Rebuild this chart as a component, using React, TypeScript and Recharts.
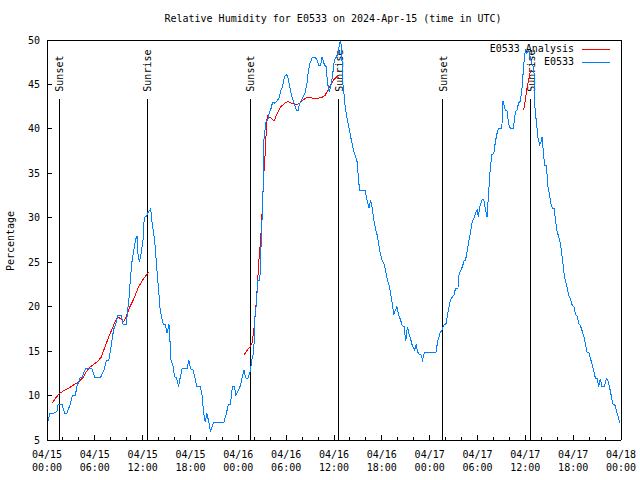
import React from 'react';
import { LineChart, Line, XAxis, YAxis, ReferenceLine } from 'recharts';

const FONT = "'DejaVu Sans Mono', 'Liberation Mono', monospace";
const BLUE = '#0080ff';
const RED = '#ff0000';

// hours since 2024-04-15 00:00 UTC
const xMajorTicks = [0, 6, 12, 18, 24, 30, 36, 42, 48, 54, 60, 66, 72];
const xTickLabels = [
  '04/15|00:00', '04/15|06:00', '04/15|12:00', '04/15|18:00',
  '04/16|00:00', '04/16|06:00', '04/16|12:00', '04/16|18:00',
  '04/17|00:00', '04/17|06:00', '04/17|12:00', '04/17|18:00',
  '04/18|00:00',
];
const xAllTicks = [
  0, 2, 4, 6, 8, 10, 12, 14, 16, 18, 20, 22, 24, 26, 28, 30, 32, 34, 36,
  38, 40, 42, 44, 46, 48, 50, 52, 54, 56, 58, 60, 62, 64, 66, 68, 70, 72,
];
const yTicks = [5, 10, 15, 20, 25, 30, 35, 40, 45, 50];

const sunNames = ['Sunset', 'Sunrise', 'Sunset', 'Sunrise', 'Sunset', 'Sunrise'];
const sunHours = [1.55, 12.6, 25.5, 36.6, 49.66, 60.68];
const sunLineTop = 43.4;

// E0533 observations
const obsHours = [
  0.1, 0.35, 0.85, 1.25, 1.4, 1.9, 2.2, 2.5, 2.9, 3.2, 3.55, 3.75, 4.15, 4.4, 4.8, 5.65,
  6.0, 6.7, 7.2, 7.45, 7.75, 7.95, 8.15, 8.35, 8.6, 8.9, 9.3, 9.55, 9.95, 10.1, 10.25,
  10.45, 10.65, 10.9, 11.1, 11.3, 11.4, 11.6, 11.8, 12.05, 12.2, 12.5, 12.6, 13.0, 13.2,
  13.5, 13.6, 13.8, 14.0, 14.2, 14.4, 14.6, 14.85, 15.05, 15.3, 15.4, 15.55, 15.8, 16.0,
  16.25, 16.5, 16.7, 16.95, 17.55, 17.8, 18.0, 18.3, 18.55, 18.8, 19.25, 19.45, 19.65,
  19.85, 20.05, 20.3, 20.5, 20.9, 22.2, 22.5, 22.75, 23.0, 23.25, 23.5, 23.7, 24.0, 24.3,
  24.5, 24.7, 24.9, 25.2, 25.5, 25.7, 25.9, 26.05, 26.1, 26.3, 26.4, 26.7, 26.8, 27.0,
  27.1, 27.2, 27.4, 27.5, 27.7, 27.9, 28.1, 28.3, 28.5, 28.7, 28.95, 29.15, 29.35, 29.55,
  29.8, 30.0, 30.2, 30.45, 30.65, 31.0, 31.3, 31.5, 31.7, 31.95, 32.35, 32.6, 32.8, 33.0,
  33.25, 33.65, 33.9, 34.1, 34.3, 34.5, 34.8, 35.0, 35.2, 35.4, 35.6, 35.85, 36.05, 36.3,
  36.5, 36.7, 36.85, 37.0, 37.1, 37.2, 37.4, 37.6, 37.85, 38.05, 38.25, 38.5, 38.7, 38.9,
  39.0, 39.2, 39.9, 40.0, 40.2, 40.4, 40.6, 40.8, 41.0, 41.2, 41.4, 41.6, 41.8, 42.05,
  42.25, 42.45, 42.65, 42.9, 43.1, 43.3, 43.5, 43.7, 43.9, 44.1, 44.35, 44.55, 44.8, 45.0,
  45.2, 45.4, 45.6, 45.8, 46.1, 46.3, 46.5, 46.7, 46.9, 47.1, 47.35, 48.8, 49.0, 49.3,
  49.55, 49.75, 50.05, 50.2, 50.4, 50.6, 50.85, 51.05, 51.25, 51.55, 51.7, 51.9, 52.1,
  52.3, 52.5, 52.7, 52.9, 53.1, 53.35, 53.55, 53.75, 53.95, 54.1, 54.3, 54.6, 54.8, 55.0,
  55.2, 55.4, 55.6, 55.8, 56.05, 56.25, 56.45, 56.65, 57.05, 57.2, 57.5, 57.7, 57.9, 58.1,
  58.5, 58.75, 58.95, 59.15, 59.35, 59.55, 59.8, 60.0, 60.2, 60.4, 60.6, 60.8, 61.0, 61.1,
  61.2, 61.4, 61.6, 61.8, 62.0, 62.1, 62.3, 62.45, 62.65, 62.8, 63.0, 63.2, 63.4, 63.6,
  63.8, 64.0, 64.25, 64.45, 64.65, 64.85, 65.05, 65.25, 65.45, 65.7, 65.9, 66.1, 66.3,
  66.5, 66.7, 66.9, 67.15, 67.35, 67.55, 67.75, 67.95, 68.15, 68.35, 68.55, 68.8, 69.0,
  69.2, 69.4, 69.6, 69.9, 70.15, 70.35, 70.55, 70.75, 70.95, 71.25, 71.45, 71.65, 71.85,
];
const obsValues = [
  7, 8, 8, 8.2, 9, 9, 8, 8, 9, 10, 10, 11, 12, 12, 13, 13,
  12, 12, 13, 14, 14, 15, 16.2, 17.4, 18, 19, 19, 18, 18, 19.5, 20.5,
  23, 25, 26.4, 27.5, 28, 26, 25, 26, 27.5, 30, 30.2, 30.5, 31, 29.3,
  27.5, 26.4, 24, 21.9, 19.6, 18.7, 18, 18, 17, 18, 16.6, 14, 13.4, 12.1,
  12, 11, 12, 13, 13, 14, 13, 12.9, 12, 11, 11, 10, 8,
  7, 8, 7, 6, 7, 7, 8, 9, 9, 11, 11, 10, 10.6, 11.2,
  12.1, 12.9, 12, 11.9, 12.7, 14, 14.75, 17, 19.3, 20.4, 23, 23, 25.6, 30.5,
  33.1, 38.75, 40.25, 41, 41, 41.9, 42.3, 43, 42.9, 43, 43.25, 43.6, 44.4, 44.75,
  45.9, 46.1, 45.9, 44.75, 43.8, 42.9, 42.1, 42.1, 42.9, 43.25, 44, 45.1, 46.6, 47.4,
  48, 48, 47.75, 47.1, 47.1, 48.1, 47.2, 47, 45.1, 44.2, 44.75, 46.25, 47.75, 48.1,
  48.5, 49.6, 50, 47.75, 45.1, 44.4, 42.5, 41.4, 40.25, 39.3, 38.4, 37.4, 36.9, 36.3,
  35.2, 33.1, 33.1, 32.6, 31.8, 31.1, 32, 31.1, 29.75, 28.8, 28.1, 27.1, 26, 25.1,
  24.9, 24.1, 23.2, 22.4, 21.5, 20.4, 19.1, 19.6, 20, 19.1, 18.5, 17.9, 17.75, 16.1,
  17.75, 17, 16.4, 15.7, 15.1, 15.7, 14.9, 14.6, 14.6, 14, 14.9, 14.9, 16.1, 17,
  17.4, 17.9, 18.1, 18.9, 19.8, 20.75, 21.1, 21.3, 22.1, 22.1, 23.75, 24.1, 24.5,
  25.1, 25.25, 26.2, 27.3, 28.25, 29.6, 29.9, 30.5, 30.9, 30.1, 31.25, 32.1, 32, 30.9,
  30.1, 32.9, 35.6, 37.1, 37.25, 38.6, 39.5, 40.1, 40.1, 43.1, 42.1, 42, 40.6, 40.1,
  40.1, 41.9, 42.1, 42.9, 43.1, 44.2, 47.2, 48.9, 48.5, 48.9, 48.1, 47.4, 47, 46.25,
  42.5, 40.6, 38.9, 38.2, 38.6, 39.1, 36.9, 35.9, 35.9, 33.7, 32.75, 31.6, 31.1, 31.1,
  29.6, 28.4, 27.7, 26.75, 25.4, 23.75, 22.8, 22.1, 21.3, 20.75, 20.1, 20, 19.1,
  18.9, 18.1, 17.9, 17.2, 16.6, 15.7, 14.9, 14.9, 14.2, 13.6, 12.9, 11.9, 11.9,
  11, 11.9, 11, 11, 11.9, 11.75, 11, 10.1, 9.1, 8.9, 8.2, 7.6, 6.9,
];

// E0533 Analysis, three separate runs
const anaHours1 = [
  0.7, 1.05, 1.6, 2.1, 2.7, 3.35, 4.0, 4.5, 4.95, 5.45, 6.3, 6.8, 7.2, 7.75, 8.35, 8.8,
  9.2, 9.6, 9.95, 10.4, 10.9, 11.5, 12.15, 12.75,
];
const anaValues1 = [
  9.2, 9.7, 10.25, 10.55, 10.8, 11.2, 11.55, 12, 12.7, 13.25, 13.8, 14.3, 15.3, 16.6, 17.9,
  18.8, 18.7, 18.3, 18.9, 20, 20.9, 22.25, 23.2, 23.9,
];
const anaHours2 = [
  24.75, 25.05, 25.4, 25.7, 25.85, 26.0, 26.2, 26.4, 26.55, 26.8, 27.0, 27.2, 27.4, 27.55,
  27.7, 28.1, 28.5, 28.7, 28.95, 29.35, 29.7, 30.2, 30.65, 31.0, 31.3, 31.7, 32.1, 32.6,
  33.0, 33.4, 33.85, 34.5, 34.9, 35.25, 35.55, 35.95, 36.4, 36.6,
];
const anaValues2 = [
  14.6, 15.05, 15.4, 15.8, 16.8, 17.9, 20, 22.5, 24.9, 27.5, 30.9, 35, 37.6, 41,
  41.45, 41.2, 40.9, 41.4, 41.9, 42.5, 42.8, 43.1, 42.9, 42.9, 42.7, 42.9, 43.25, 43.55,
  43.55, 43.4, 43.4, 43.55, 43.8, 44.4, 44.9, 45.5, 45.9, 45.8,
];
const anaHours3 = [59.8, 60.0, 60.2, 60.4, 60.6, 60.85];
const anaValues3 = [42.1, 43.25, 44.6, 45.5, 46.4, 46.6];

const toRows = (hs: number[], vs: number[]) => hs.map((h, i) => ({ h, v: vs[i] }));

const obsData = toRows(obsHours, obsValues);
const anaSegments = [
  toRows(anaHours1, anaValues1),
  toRows(anaHours2, anaValues2),
  toRows(anaHours3, anaValues3),
];

const XTick = (props: any) => {
  const { x, y, payload, top } = props;
  const v = payload.value;
  const idx = xMajorTicks.indexOf(v);
  const len = idx >= 0 ? 5 : 3;
  const line = (
    <line x1={x} x2={x} y1={y} y2={top ? y + len : y - len} stroke="#000" shapeRendering="crispEdges" />
  );
  if (top || idx < 0) return line;
  const [l1, l2] = xTickLabels[idx].split('|');
  return (
    <g>
      {line}
      <text x={x} y={y + 18} textAnchor="middle" fontFamily={FONT} fontSize={10} fill="#000">
        <tspan x={x}>{l1}</tspan>
        <tspan x={x} dy={13}>{l2}</tspan>
      </text>
    </g>
  );
};

const YTick = (props: any) => {
  const { x, y, payload, right } = props;
  const line = (
    <line x1={x} x2={right ? x - 5 : x + 5} y1={y} y2={y} stroke="#000" shapeRendering="crispEdges" />
  );
  if (right) return line;
  return (
    <g>
      {line}
      <text x={x - 7} y={y + 3.5} textAnchor="end" fontFamily={FONT} fontSize={10} fill="#000">
        {payload.value}
      </text>
    </g>
  );
};

const SunLabel = (props: any) => {
  const vb = props.viewBox || {};
  const x = vb.x ?? vb.x1 ?? 0;
  const y = vb.y ?? Math.min(vb.y1 ?? 0, vb.y2 ?? 0);
  return (
    <text
      transform={`translate(${x + 4},${y - 7}) rotate(-90)`}
      textAnchor="start"
      fontFamily={FONT}
      fontSize={10}
      fill="#000"
    >
      {props.text}
    </text>
  );
};

const textStyle: React.CSSProperties = {
  position: 'absolute',
  fontFamily: FONT,
  fontSize: 10,
  color: '#000',
  whiteSpace: 'nowrap',
  lineHeight: '12px',
};

const axisLine = { stroke: '#000', shapeRendering: 'crispEdges' };

export default function App() {
  return (
    <div style={{ position: 'absolute', left: 0, top: 0, width: 640, height: 480, background: '#fff' }}>
      <LineChart width={640} height={480} margin={{ top: 39, right: 18, bottom: 39, left: 46 }}>
        <XAxis
          dataKey="h"
          type="number"
          domain={[0, 72]}
          ticks={xAllTicks}
          interval={0}
          height={1}
          tickSize={0}
          tickMargin={0}
          tickLine={false}
          axisLine={axisLine}
          tick={<XTick />}
          allowDataOverflow
        />
        <XAxis
          xAxisId="t"
          orientation="top"
          dataKey="h"
          type="number"
          domain={[0, 72]}
          ticks={xAllTicks}
          interval={0}
          height={1}
          tickSize={0}
          tickMargin={0}
          tickLine={false}
          axisLine={axisLine}
          tick={<XTick top />}
        />
        <YAxis
          type="number"
          domain={[5, 50]}
          ticks={yTicks}
          interval={0}
          width={1}
          tickSize={0}
          tickMargin={0}
          tickLine={false}
          axisLine={axisLine}
          tick={<YTick />}
          allowDataOverflow
        />
        <YAxis
          yAxisId="r"
          orientation="right"
          type="number"
          domain={[5, 50]}
          ticks={yTicks}
          interval={0}
          width={1}
          tickSize={0}
          tickMargin={0}
          tickLine={false}
          axisLine={axisLine}
          tick={<YTick right />}
        />
        {sunHours.map((h, i) => (
          <ReferenceLine
            key={`sun-${i}`}
            segment={[{ x: h, y: 5 }, { x: h, y: sunLineTop }]}
            stroke="#000"
            strokeWidth={1}
            shapeRendering="crispEdges"
            label={<SunLabel text={sunNames[i]} />}
          />
        ))}
        {anaSegments.map((seg, i) => (
          <Line
            key={`ana-${i}`}
            data={seg}
            dataKey="v"
            type="linear"
            stroke={RED}
            strokeWidth={1}
            shapeRendering="crispEdges"
            dot={false}
            isAnimationActive={false}
          />
        ))}
        <Line
          data={obsData}
          dataKey="v"
          type="linear"
          stroke={BLUE}
          strokeWidth={1}
          shapeRendering="crispEdges"
          dot={false}
          isAnimationActive={false}
        />
      </LineChart>

      <div style={{ ...textStyle, left: 333, top: 19, transform: 'translate(-50%, -50%)' }}>
        Relative Humidity for E0533 on 2024-Apr-15 (time in UTC)
      </div>
      <div style={{ ...textStyle, left: 11, top: 241, transform: 'translate(-50%, -50%) rotate(-90deg)' }}>
        Percentage
      </div>
      <div style={{ ...textStyle, right: 66, top: 49, transform: 'translateY(-50%)' }}>E0533 Analysis</div>
      <div style={{ position: 'absolute', left: 582, top: 49, width: 28, height: 1, background: RED }} />
      <div style={{ ...textStyle, right: 66, top: 62, transform: 'translateY(-50%)' }}>E0533</div>
      <div style={{ position: 'absolute', left: 582, top: 62, width: 28, height: 1, background: BLUE }} />
    </div>
  );
}
